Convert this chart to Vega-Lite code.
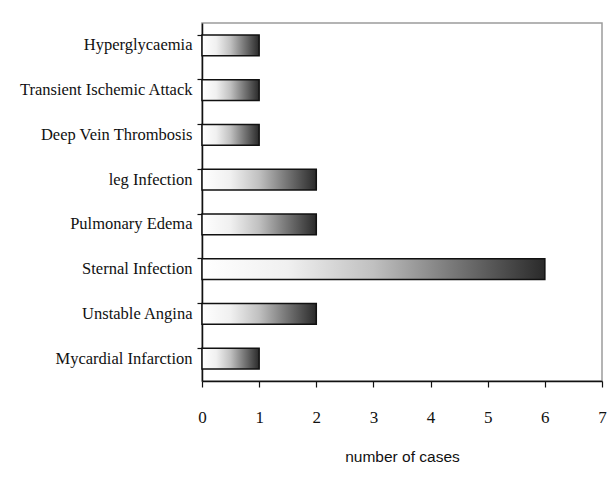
{
  "$schema": "https://vega.github.io/schema/vega-lite/v6.json",
  "autosize": {"type": "none"},
  "padding": {"left": 202, "top": 23, "right": 11, "bottom": 116},
  "width": 400,
  "height": 358,
  "background": "white",
  "config": {
    "view": {"stroke": "#9c9c9c", "strokeWidth": 1.5},
    "axis": {"domainColor": "#111111", "domainWidth": 1.5, "tickColor": "#111111", "tickWidth": 1.2, "grid": false}
  },
  "data": {
    "values": [
      {"complication": "Hyperglycaemia", "cases": 1},
      {"complication": "Transient Ischemic Attack", "cases": 1},
      {"complication": "Deep Vein Thrombosis", "cases": 1},
      {"complication": "leg Infection", "cases": 2},
      {"complication": "Pulmonary Edema", "cases": 2},
      {"complication": "Sternal Infection", "cases": 6},
      {"complication": "Unstable Angina", "cases": 2},
      {"complication": "Mycardial Infarction", "cases": 1}
    ]
  },
  "mark": {
    "type": "bar",
    "stroke": "#111111",
    "strokeWidth": 1.5,
    "fill": {
      "gradient": "linear",
      "x1": 0, "y1": 0, "x2": 1, "y2": 0,
      "stops": [
        {"offset": 0, "color": "#ffffff"},
        {"offset": 0.25, "color": "#f0f0f0"},
        {"offset": 0.5, "color": "#c0c0c0"},
        {"offset": 0.72, "color": "#7c7c7c"},
        {"offset": 1, "color": "#2a2a2a"}
      ]
    }
  },
  "encoding": {
    "y": {
      "field": "complication",
      "type": "nominal",
      "sort": null,
      "scale": {"paddingInner": 0.54, "paddingOuter": 0.27},
      "axis": {
        "title": null,
        "bandPosition": 0,
        "tickSize": 5,
        "labelPadding": 5,
        "labelFont": "Liberation Serif",
        "labelFontSize": 16.5,
        "labelColor": "#111111",
        "labelLimit": 300
      }
    },
    "x": {
      "field": "cases",
      "type": "quantitative",
      "scale": {"domain": [0, 7], "nice": false},
      "axis": {
        "title": "number of cases",
        "values": [0, 1, 2, 3, 4, 5, 6, 7],
        "format": "d",
        "tickSize": 6,
        "labelPadding": 22,
        "labelFont": "Liberation Serif",
        "labelFontSize": 17,
        "labelColor": "#111111",
        "labelFlush": false,
        "titleFont": "Liberation Sans",
        "titleFontSize": 15.5,
        "titleFontWeight": "normal",
        "titleColor": "#111111",
        "titlePadding": 24
      }
    }
  }
}
